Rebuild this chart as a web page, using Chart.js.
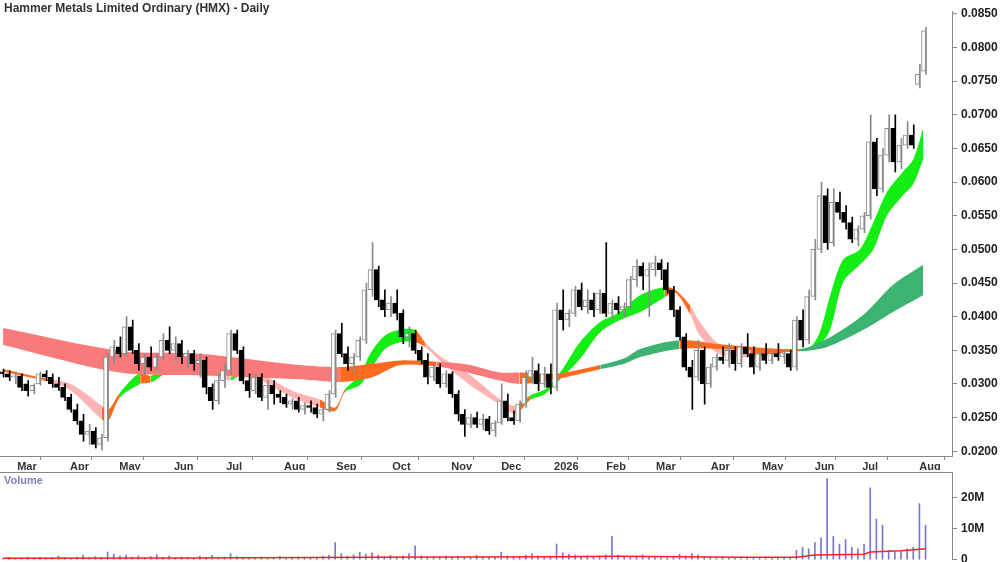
<!DOCTYPE html>
<html><head><meta charset="utf-8">
<script src="https://cdn.jsdelivr.net/npm/chart.js@4.4.0/dist/chart.umd.min.js"></script>
<style>
html,body{margin:0;padding:0;background:#fff;width:1000px;height:562px;overflow:hidden;font-family:"Liberation Sans",Arial,sans-serif}
#t{position:absolute;left:4px;top:1px;font-size:12px;font-weight:bold;color:#333}
#v{position:absolute;left:4px;top:474px;font-size:11px;font-weight:bold;color:#8080c0}
#c1{position:absolute;left:0;top:0}
#c2{position:absolute;left:0;top:461px}
</style></head><body>
<div id="c1"><canvas id="p" width="1000" height="470"></canvas></div>
<div id="c2"><canvas id="q" width="1000" height="110"></canvas></div>
<div id="t">Hammer Metals Limited Ordinary (HMX) - Daily</div>
<div id="v">Volume</div>
<script>
const title = "Hammer Metals Limited Ordinary (HMX) - Daily";
const monthLabels = ["Mar","Apr","May","Jun","Jul","Aug","Sep","Oct","Nov","Dec","2026","Feb","Mar","Apr","May","Jun","Jul","Aug"];
const monthPos = [1.8,10.4,18.4,27.3,35.8,45.2,53.7,62.8,72.4,80.5,89.1,97.6,105.7,114.6,122.9,131.5,139.2,148.5];
const priceTicks = [0.020,0.025,0.030,0.035,0.040,0.045,0.050,0.055,0.060,0.065,0.070,0.075,0.080,0.085];
const volTicks = [0,10,20];
const O=[.0318,.0315,.0310,.0312,.0300,.0290,.0300,.0315,.0310,.0300,.0295,.0280,.0262,.0245,.0225,.0230,.0210,.0220,.0340,.0355,
.0345,.0385,.0350,.0330,.0340,.0325,.0340,.0365,.0350,.0360,.0340,.0345,.0330,.0335,.0295,.0275,.0305,.0320,.0375,.0350,
.0305,.0290,.0310,.0280,.0298,.0285,.0280,.0270,.0275,.0262,.0268,.0265,.0255,.0262,.0285,.0375,.0345,.0330,.0340,.0365,
.0440,.0470,.0425,.0410,.0420,.0405,.0370,.0375,.0350,.0335,.0310,.0325,.0300,.0315,.0285,.0255,.0240,.0250,.0240,.0248,
.0230,.0242,.0275,.0250,.0245,.0270,.0310,.0320,.0300,.0315,.0295,.0410,.0395,.0405,.0440,.0415,.0425,.0410,.0435,.0405,
.0420,.0410,.0415,.0455,.0475,.0460,.0470,.0480,.0470,.0440,.0410,.0370,.0325,.0310,.0350,.0300,.0325,.0340,.0335,.0350,
.0330,.0355,.0345,.0325,.0345,.0335,.0345,.0340,.0345,.0325,.0395,.0365,.0430,.0500,.0580,.0510,.0570,.0555,.0540,.0515,
.0530,.0550,.0660,.0590,.0640,.0680,.0630,.0655,.0670,.0745,.0765];
const H=[.0322,.0320,.0318,.0315,.0305,.0300,.0318,.0320,.0315,.0310,.0300,.0285,.0270,.0255,.0240,.0235,.0225,.0345,.0365,.0370,
.0400,.0395,.0360,.0345,.0355,.0345,.0375,.0385,.0370,.0365,.0350,.0350,.0345,.0340,.0300,.0315,.0330,.0380,.0380,.0355,
.0315,.0315,.0315,.0305,.0305,.0290,.0285,.0278,.0280,.0272,.0275,.0270,.0265,.0290,.0380,.0390,.0355,.0345,.0370,.0450,
.0510,.0475,.0440,.0430,.0440,.0410,.0385,.0380,.0355,.0345,.0330,.0330,.0320,.0318,.0290,.0262,.0255,.0258,.0255,.0252,
.0245,.0300,.0285,.0260,.0275,.0320,.0340,.0330,.0325,.0330,.0420,.0440,.0410,.0445,.0450,.0440,.0435,.0440,.0510,.0425,
.0430,.0420,.0460,.0485,.0480,.0480,.0490,.0485,.0480,.0445,.0415,.0375,.0335,.0365,.0355,.0330,.0345,.0355,.0360,.0355,
.0360,.0375,.0355,.0350,.0360,.0350,.0360,.0350,.0350,.0400,.0410,.0440,.0515,.0600,.0590,.0590,.0585,.0565,.0548,.0535,
.0555,.0700,.0665,.0650,.0700,.0700,.0665,.0690,.0685,.0775,.0830];
const L=[.0310,.0305,.0300,.0290,.0282,.0285,.0298,.0305,.0295,.0290,.0275,.0258,.0240,.0215,.0210,.0205,.0202,.0215,.0330,.0340,
.0340,.0345,.0320,.0315,.0320,.0320,.0335,.0345,.0335,.0330,.0325,.0320,.0310,.0285,.0262,.0270,.0295,.0315,.0345,.0300,
.0280,.0285,.0275,.0262,.0270,.0272,.0265,.0262,.0258,.0255,.0258,.0250,.0245,.0258,.0280,.0340,.0320,.0315,.0335,.0360,
.0430,.0415,.0400,.0400,.0395,.0360,.0355,.0345,.0330,.0300,.0305,.0295,.0295,.0280,.0245,.0222,.0235,.0235,.0232,.0225,
.0222,.0240,.0245,.0240,.0243,.0265,.0300,.0290,.0295,.0285,.0290,.0380,.0385,.0400,.0410,.0405,.0400,.0405,.0400,.0395,
.0405,.0400,.0410,.0445,.0440,.0400,.0460,.0455,.0435,.0400,.0365,.0320,.0262,.0305,.0270,.0295,.0320,.0330,.0325,.0320,
.0325,.0340,.0315,.0320,.0330,.0330,.0335,.0330,.0320,.0320,.0355,.0360,.0425,.0495,.0500,.0505,.0545,.0530,.0510,.0505,
.0525,.0545,.0580,.0585,.0630,.0615,.0620,.0650,.0650,.0740,.0760];
const C=[.0315,.0310,.0312,.0295,.0290,.0298,.0315,.0310,.0300,.0295,.0280,.0262,.0245,.0225,.0230,.0210,.0220,.0340,.0355,.0345,
.0385,.0350,.0330,.0340,.0325,.0340,.0365,.0350,.0360,.0340,.0345,.0330,.0335,.0295,.0275,.0305,.0320,.0375,.0350,.0305,
.0290,.0310,.0280,.0298,.0285,.0280,.0270,.0275,.0262,.0268,.0265,.0255,.0262,.0285,.0375,.0345,.0330,.0340,.0365,.0440,
.0470,.0425,.0410,.0420,.0405,.0370,.0375,.0350,.0335,.0310,.0325,.0300,.0315,.0285,.0255,.0240,.0250,.0240,.0248,.0230,
.0242,.0275,.0250,.0245,.0270,.0310,.0320,.0300,.0315,.0295,.0410,.0395,.0405,.0440,.0415,.0425,.0410,.0435,.0405,.0420,
.0410,.0415,.0455,.0475,.0460,.0470,.0480,.0470,.0440,.0410,.0370,.0325,.0310,.0350,.0300,.0325,.0340,.0335,.0350,.0330,
.0355,.0345,.0325,.0345,.0335,.0345,.0340,.0345,.0325,.0395,.0365,.0430,.0500,.0580,.0510,.0570,.0555,.0540,.0515,.0530,
.0550,.0660,.0590,.0640,.0680,.0630,.0655,.0670,.0655,.0760,.0825];
const volume=[.5,.8,.4,.6,.9,.3,.7,.5,.6,1.2,.8,.5,.9,1.5,.7,1.0,.6,2.5,1.8,1.2,
1.5,.9,1.3,.7,1.0,1.6,.8,1.2,.6,.9,.7,.5,1.1,.8,1.4,.6,.9,2.0,1.0,.7,
.8,.5,.9,.6,.7,1.0,.5,.8,.6,.9,.7,.5,1.2,1.5,5.5,2.0,1.2,1.6,2.5,1.8,
2.2,1.5,1.0,1.4,.9,1.2,2.0,4.5,1.3,.8,1.0,.7,1.2,.9,1.1,.6,.8,1.4,.7,1.0,
.9,2.5,1.2,.8,1.0,1.5,2.0,1.3,.9,1.2,5.0,2.2,1.8,1.5,1.0,1.3,.9,1.2,1.6,7.5,
1.5,1.0,.8,1.2,1.6,1.0,.9,.7,.6,1.0,1.8,1.2,2.0,1.5,1.0,.8,.6,.9,.5,.7,
.4,.6,.5,.8,.4,.6,.7,.5,.8,3.0,4.0,3.5,5.5,7.0,26,7.5,5.0,6.5,4.0,3.5,
5.0,23,13,11,3.0,2.5,3.0,3.5,4.0,18,11];
const volMA=[{x:0,y:.5},{x:30,y:.6},{x:60,y:.8},{x:90,y:1.0},{x:100,y:1.1},{x:120,y:.8},{x:129,y:.8},{x:132,y:1.5},{x:140,y:1.8},{x:141,y:2.5},{x:146,y:2.9},{x:150,y:3.5}];
// Short-term ribbon: [index, top, bottom, colour code of following segment]
const shortBand=[[0,.0322,.0318,'o'],[7,.0308,.0304,'p'],[11,.0300,.0290,'p'],[16,.0268,.0248,'o'],[17,.0260,.0243,'o'],[19,.0287,.0280,'g'],
[22.3,.0317,.0300,'o'],[24,.0312,.0302,'g'],[27.2,.0332,.0320,'g'],[30.4,.0337,.0328,'g'],[33,.0333,.0327,'p'],[35.3,.0317,.0312,'p'],
[37,.0310,.0305,'g'],[39.4,.0325,.0318,'p'],[42,.0315,.0305,'p'],[47,.0290,.0280,'p'],[51.5,.0277,.0265,'o'],[54,.0265,.0260,'o'],
[55.6,.0292,.0288,'g'],[58,.0313,.0298,'g'],[59.7,.0345,.0320,'g'],[62.1,.0372,.0352,'g'],[64.6,.0381,.0362,'g'],[67,.0380,.0362,'o'],
[68.6,.0362,.0355,'p'],[71,.0342,.0335,'p'],[76,.0313,.0298,'p'],[81,.0276,.0268,'p'],[83.3,.0268,.0255,'o'],[85.7,.0283,.0276,'g'],
[88.1,.0292,.0285,'g'],[90.6,.0317,.0307,'g'],[93.8,.0362,.0337,'g'],[97.1,.0392,.0377,'g'],[100.3,.0407,.0395,'g'],[103.6,.0432,.0407,'g'],
[107.6,.0444,.0429,'o'],[109.3,.0440,.0436,'o'],[111.7,.0417,.0404,'p'],[113.3,.0392,.0372,'p'],[116.6,.0358,.0344,'p'],[121.5,.0352,.0340,'o'],
[128,.0352,.0348,'g'],[131.2,.0355,.0350,'g'],[132.8,.0377,.0358,'g'],[134.5,.0432,.0381,'g'],[136.6,.0485,.0451,'g'],[139.3,.0500,.0477,'g'],
[141.5,.0540,.0500,'g'],[143.7,.0585,.0550,'g'],[146.3,.0615,.0580,'g'],[148,.0634,.0597,'g'],[149.6,.0679,.0634,'g']];
// Long-term ribbon
const longBand=[[0,.0383,.0358,'r'],[19,.0349,.0317,'r'],[32,.0345,.0313,'r'],[48.3,.0328,.0307,'r'],[54.8,.0325,.0303,'o'],[60,.0330,.0310,'o'],
[64.6,.0335,.0328,'o'],[70.5,.0333,.0326,'r'],[75.5,.0329,.0317,'r'],[80.8,.0317,.0305,'r'],[84,.0317,.0300,'o'],[89.8,.0315,.0307,'o'],
[97.1,.0328,.0322,'d'],[101,.0338,.0330,'d'],[103.6,.0352,.0340,'d'],[110,.0365,.0352,'o'],[116.6,.0359,.0352,'o'],[129.6,.0352,.0349,'d'],
[134,.0367,.0355,'d'],[139.8,.0402,.0380,'d'],[144.7,.0447,.0407,'d'],[149.6,.0477,.0432,'d']];

const COL={o:'#ff6a1f',p:'#ffb4b4',g:'#14ee14',r:'#f87a7a',d:'#3cb371'};
const idx=O.map((_,i)=>i);
function band(arr,label){
  const codes=arr.map(a=>a[3]);
  const seg={backgroundColor:c=>COL[codes[c.p0DataIndex]]};
  return [
    {type:'line',label:label+' bottom',data:arr.map(a=>({x:a[0],y:a[2]})),borderWidth:0,pointRadius:0,fill:false,order:5,tension:0.3},
    {type:'line',label:label+' top',data:arr.map(a=>({x:a[0],y:a[1]})),borderWidth:0,pointRadius:0,fill:'-1',order:5,tension:0.3,
     backgroundColor:COL[codes[0]],segment:seg}
  ];
}
const up=i=>C[i]>=O[i];
const fontAx={family:'"Liberation Sans", Arial',size:11,weight:'bold'};
new Chart(document.getElementById('p'),{
  type:'bar',
  data:{datasets:[
    ...band(longBand,'long'),...band(shortBand,'short'),
    {label:'wick',data:idx.map(i=>({x:i,y:[L[i],H[i]]})),barThickness:1,order:2,
     backgroundColor:idx.map(i=>up(i)?'#8a8a8a':'#000')},
    {label:'body',data:idx.map(i=>({x:i,y:[O[i],C[i]===O[i]?C[i]+0.00005:C[i]]})),barThickness:4,order:1,borderSkipped:false,
     backgroundColor:idx.map(i=>up(i)?'#fff':'#000'),borderColor:idx.map(i=>up(i)?'#8a8a8a':'#000'),borderWidth:1}
  ]},
  options:{responsive:false,animation:false,layout:{padding:0},
    plugins:{legend:{display:false},tooltip:{enabled:false}},
    scales:{
      x:{type:'linear',min:-0.5,max:154.3,offset:false,
        afterBuildTicks:s=>{s.ticks=monthPos.map(v=>({value:v}));},
        afterFit:s=>{s.height=14;},
        ticks:{callback:(v,i)=>monthLabels[i],align:'start',labelOffset:3,padding:0,maxRotation:0,autoSkip:false,color:'#333',font:fontAx},
        grid:{drawOnChartArea:false,tickLength:4,color:'#888'},border:{color:'#888'}},
      y:{position:'right',min:0.01929,max:0.0854,
        afterBuildTicks:s=>{s.ticks=priceTicks.map(v=>({value:v}));},
        afterFit:s=>{s.width=48;},
        ticks:{callback:v=>v.toFixed(4),padding:4,color:'#222',font:{family:'"Liberation Sans", Arial',size:12,weight:'bold'}},
        grid:{drawOnChartArea:false,tickLength:5,color:'#888'},border:{color:'#888'}}
    }}
});
new Chart(document.getElementById('q'),{
  type:'bar',
  data:{datasets:[
    {type:'line',data:volMA,borderColor:'#ff2020',borderWidth:1.5,pointRadius:0,order:1},
    {data:idx.map(i=>({x:i,y:volume[i]})),barThickness:1,backgroundColor:'#7878d0',order:2}
  ]},
  options:{responsive:false,animation:false,layout:{padding:0},
    plugins:{legend:{display:false},tooltip:{enabled:false}},
    scales:{
      x:{type:'linear',min:-0.5,max:154.3,offset:false,display:false},
      y:{position:'right',min:0,max:28,
        afterBuildTicks:s=>{s.ticks=volTicks.map(v=>({value:v}));},
        afterFit:s=>{s.width=48;},
        ticks:{callback:v=>v===0?'0':v+'M',padding:4,color:'#222',font:{family:'"Liberation Sans", Arial',size:12,weight:'bold'}},
        grid:{drawOnChartArea:false,tickLength:5,color:'#888'},border:{color:'#888'}}
    }},
  plugins:[{id:'topline',afterDraw(c){const g=c.ctx,a=c.chartArea;g.save();g.strokeStyle='#888';g.beginPath();g.moveTo(0,Math.round(a.top)+0.5);g.lineTo(a.right,Math.round(a.top)+0.5);g.stroke();g.restore();}}]
});
</script></body></html>
